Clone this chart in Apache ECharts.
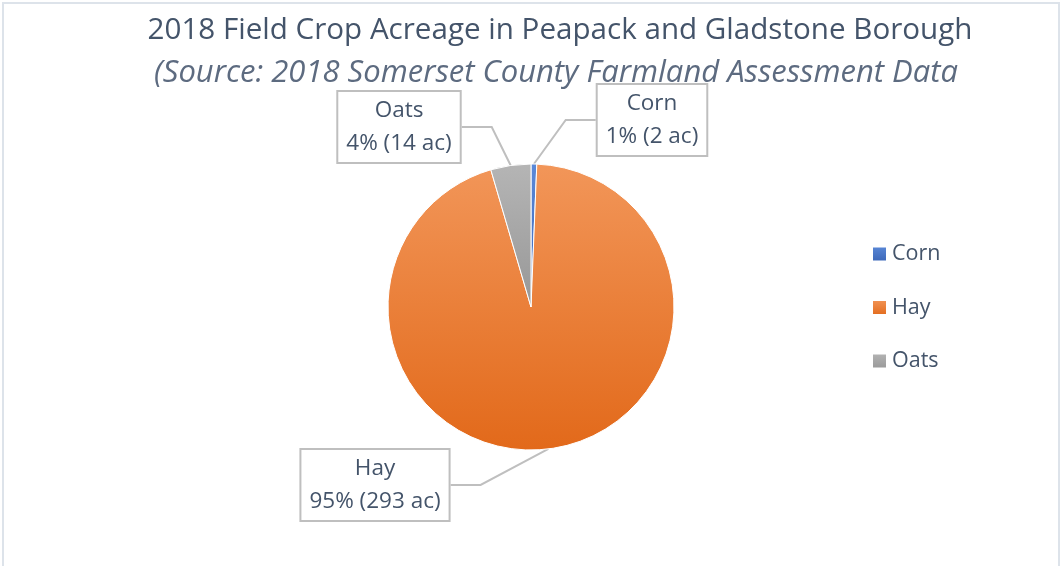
<!DOCTYPE html>
<html>
<head>
<meta charset="utf-8">
<script src="https://cdn.jsdelivr.net/npm/echarts@6/dist/echarts.min.js"></script>
<style>
  html, body { margin: 0; padding: 0; background: #fff; }
  #frame { position: absolute; left: 2px; top: 2px; width: 1054px; height: 600px;
           border-left: 2px solid #dde3ea; border-top: 2px solid #dde3ea; border-right: 2px solid #dde3ea; }
  #chart { position: absolute; left: 0; top: 0; width: 1061px; height: 566px; }
</style>
</head>
<body>
<div id="frame"></div>
<div id="chart"></div>
<script>
const categories = ['Corn', 'Hay', 'Oats'];
const acres = [2, 293, 14];
const percents = [1, 95, 4];
const colorsTop = ['#5b89d8', '#f29659', '#b5b5b5'];
const colorsBottom = ['#3a65b6', '#e2691a', '#979797'];
const labelCenters = [[652, 120], [375, 485], [399, 127]];

const chart = echarts.init(document.getElementById('chart'));
const data = categories.map((c, i) => ({
  name: c,
  value: acres[i],
  itemStyle: {
    color: new echarts.graphic.LinearGradient(0, 0, 0, 1, [
      { offset: 0, color: colorsTop[i] },
      { offset: 1, color: colorsBottom[i] }
    ])
  }
}));

chart.setOption({
  animation: false,
  title: [
    {
      text: '2018 Field Crop Acreage in Peapack and Gladstone Borough',
      left: 555, top: 11, textAlign: 'center',
      textStyle: { fontFamily: 'Open Sans', fontSize: 29.6, fontWeight: 'normal', color: '#44546a' }
    },
    {
      text: '(Source: 2018 Somerset County Farmland Assessment Data',
      left: 551, top: 53, textAlign: 'center',
      textStyle: { fontFamily: 'Open Sans', fontSize: 31, fontStyle: 'italic', fontWeight: 'normal', color: '#5d6b80' }
    }
  ],
  legend: {
    orient: 'vertical',
    left: 871, top: 242.5,
    padding: 0,
    itemWidth: 15, itemHeight: 15, itemGap: 30.5,
    icon: 'rect',
    data: categories,
    textStyle: { fontFamily: 'Open Sans', fontSize: 21.5, color: '#44546a', lineHeight: 23 }
  },
  series: [{
    type: 'pie',
    center: [531, 307],
    radius: 143,
    startAngle: 90,
    clockwise: true,
    data: data,
    itemStyle: { borderColor: '#ffffff', borderWidth: 1 },
    label: {
      show: true,
      position: 'outside',
      formatter: p => p.name + '\n' + percents[p.dataIndex] + '% (' + acres[p.dataIndex] + ' ac)',
      fontFamily: 'Open Sans',
      fontSize: 22.5,
      lineHeight: 33,
      color: '#44546a',
      align: 'center',
      backgroundColor: '#ffffff',
      borderColor: '#bfbfbf',
      borderWidth: 2,
      padding: [2, 8, 2, 8]
    },
    labelLine: {
      show: true,
      lineStyle: { color: '#bfbfbf', width: 2 }
    },
    labelLayout: function (params) {
      const c = labelCenters[params.dataIndex];
      return { x: c[0], y: c[1], align: 'center', verticalAlign: 'middle' };
    },
    emphasis: { disabled: true }
  }]
});
</script>
</body>
</html>
